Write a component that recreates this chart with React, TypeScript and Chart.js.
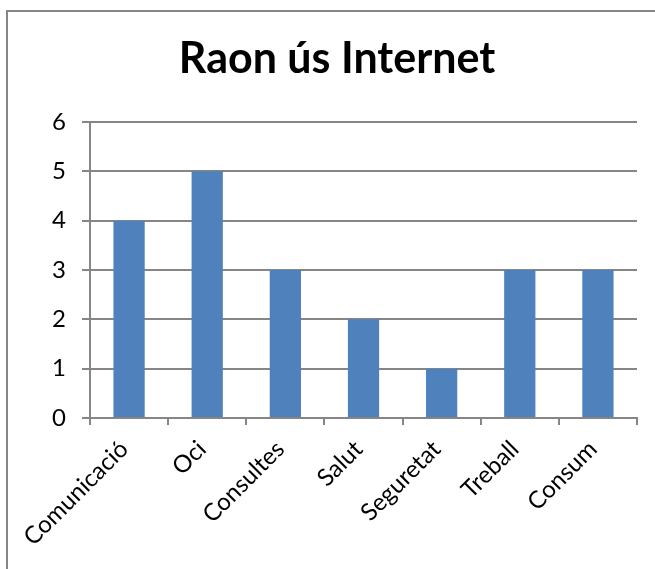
import React, { useEffect, useRef } from "react";
import { Chart, registerables } from "chart.js";

Chart.register(...registerables);

const categories = ["Comunicació", "Oci", "Consultes", "Salut", "Seguretat", "Treball", "Consum"];
const values = [4, 5, 3, 2, 1, 3, 3];
const yTicks = [0, 1, 2, 3, 4, 5, 6];
const titleText = "Raon ús Internet";

const W = 655;
const H = 569;
const GRID = "#868686";
const FONT = "Lato, 'Open Sans', sans-serif";

const frame = {
  id: "frame",
  beforeDraw(chart: any) {
    const ctx = chart.ctx;
    ctx.save();
    ctx.fillStyle = "#ffffff";
    ctx.fillRect(0, 0, chart.width, chart.height);
    ctx.strokeStyle = GRID;
    ctx.lineWidth = 2;
    ctx.strokeRect(7, 11, chart.width + 40, chart.height + 40);
    ctx.restore();
  },
  afterDraw(chart: any) {
    const ctx = chart.ctx;
    ctx.save();
    ctx.fillStyle = "#000";
    ctx.font = `bold 43px ${FONT}`;
    ctx.textAlign = "center";
    ctx.textBaseline = "alphabetic";
    ctx.fillText(titleText, 337, 73);
    ctx.restore();
  },
};

export default function App() {
  const ref = useRef<HTMLCanvasElement | null>(null);
  useEffect(() => {
    if (!ref.current) return;
    const chart = new Chart(ref.current, {
      type: "bar",
      data: {
        labels: categories,
        datasets: [
          {
            data: values,
            backgroundColor: "#4F81BD",
            borderWidth: 0,
            barPercentage: 0.4,
            categoryPercentage: 1,
          },
        ],
      },
      options: {
        responsive: false,
        animation: false,
        layout: { padding: { left: 0, right: 18, top: 122, bottom: 0 } },
        plugins: {
          legend: { display: false },
          tooltip: { enabled: false },
          title: { display: false },
        },
        scales: {
          x: {
            afterFit(scale: any) {
              scale.height = 151;
            },
            grid: {
              drawOnChartArea: false,
              drawTicks: true,
              tickLength: 7,
              color: GRID,
              lineWidth: 2,
              offset: true,
            },
            border: { display: true, color: GRID, width: 2 },
            ticks: {
              color: "#000",
              font: { family: FONT, size: 24 },
              minRotation: 45,
              maxRotation: 45,
              autoSkip: false,
              padding: 10,
              labelOffset: -5,
            },
          },
          y: {
            min: 0,
            max: 6,
            afterFit(scale: any) {
              scale.width = 90;
            },
            afterBuildTicks(scale: any) {
              scale.ticks = yTicks.map((v) => ({ value: v }));
            },
            grid: {
              color: GRID,
              lineWidth: 2,
              tickLength: 8,
              drawTicks: true,
            },
            border: { display: true, color: GRID, width: 2 },
            ticks: {
              color: "#000",
              font: { family: FONT, size: 24 },
              padding: 16,
              stepSize: 1,
            },
          },
        },
      },
      plugins: [frame],
    });
    return () => chart.destroy();
  }, []);
  return (
    <div style={{ position: "absolute", left: 0, top: 0, width: W, height: H }}>
      <canvas ref={ref} width={W} height={H} style={{ display: "block" }} />
    </div>
  );
}
